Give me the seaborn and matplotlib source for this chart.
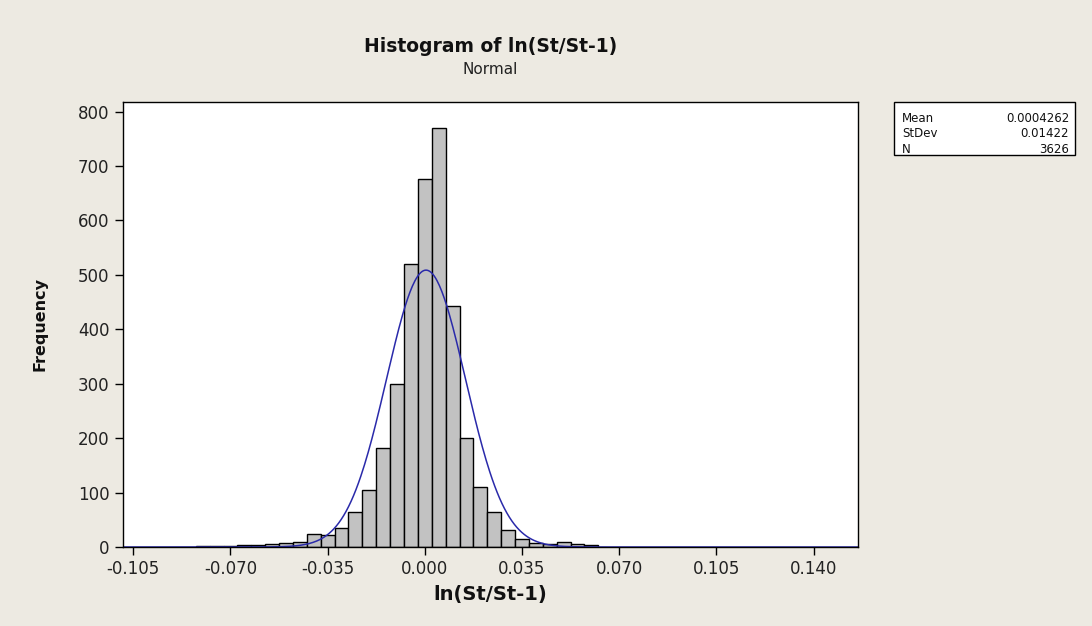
import numpy as np
import pandas as pd
import seaborn as sns
import matplotlib
matplotlib.use("Agg")
import matplotlib.pyplot as plt

# bin centres (width 0.005) and counts
bin_centers = [-0.080, -0.075, -0.070, -0.065, -0.060, -0.055, -0.050, -0.045,
               -0.040, -0.035, -0.030, -0.025, -0.020, -0.015, -0.010, -0.005,
               0.000, 0.005, 0.010, 0.015, 0.020, 0.025, 0.030, 0.035,
               0.040, 0.045, 0.050, 0.055, 0.060]
counts = [2, 2, 1, 3, 4, 6, 7, 10,
          23, 22, 35, 65, 105, 181, 299, 520,
          676, 769, 443, 200, 111, 65, 32, 14,
          8, 5, 9, 6, 3]
bin_width = 0.005

mean_val = 0.0004262
stdev_val = 0.01422
n_obs = 3626

x_ticks = [-0.105, -0.070, -0.035, 0.000, 0.035, 0.070, 0.105, 0.140]
y_ticks = [0, 100, 200, 300, 400, 500, 600, 700, 800]

df = pd.DataFrame({"ret": bin_centers, "count": counts})

sns.set_style("white")
plt.rcParams["axes.unicode_minus"] = False
plt.rcParams["font.family"] = ["DejaVu Sans"]

bg = "#EDEAE2"
fig = plt.figure(figsize=(10.92, 6.26), dpi=100, facecolor=bg)
ax = fig.add_axes([0.1124, 0.1262, 0.6733, 0.7113])
ax.set_facecolor("white")

sns.histplot(data=df, x="ret", weights="count", binwidth=bin_width,
             binrange=(-0.0825, 0.0625), stat="count",
             color="#C2C2C2", edgecolor="black", linewidth=1.0, alpha=1.0, ax=ax)

# fitted normal curve scaled to counts
xs = np.linspace(-0.1088, 0.156, 600)
ys = n_obs * bin_width * np.exp(-0.5 * ((xs - mean_val) / stdev_val) ** 2) / (stdev_val * np.sqrt(2 * np.pi))
sns.lineplot(x=xs, y=ys, color="#2A2AAA", linewidth=1.1, ax=ax)

ax.set_xlim(-0.1088, 0.156)
ax.set_ylim(0, 818)
ax.set_xticks(x_ticks)
ax.set_xticklabels([f"{t:.3f}" for t in x_ticks])
ax.set_yticks(y_ticks)
ax.tick_params(axis="both", direction="out", length=6, width=1, color="black",
               labelsize=12, labelcolor="#222222", bottom=True, left=True)
for s in ax.spines.values():
    s.set_color("black")
    s.set_linewidth(1.0)

ax.set_xlabel("ln(St/St-1)", fontsize=14, fontweight="bold", labelpad=5, color="#111111")
ax.set_ylabel("Frequency", fontsize=11.5, fontweight="bold", labelpad=22, color="#111111")

fig.text(0.449, 0.925, "Histogram of ln(St/St-1)", ha="center", va="center",
         fontsize=13.5, fontweight="bold", color="#111111")
fig.text(0.449, 0.889, "Normal", ha="center", va="center", fontsize=11, color="#222222")

# stats box
box = plt.Rectangle((0.8187, 0.752), 0.1657, 0.085, transform=fig.transFigure,
                    facecolor="white", edgecolor="black", linewidth=1.0)
fig.patches.append(box)
labels = ["Mean", "StDev", "N"]
values = ["0.0004262", "0.01422", str(n_obs)]
for i, (lab, val) in enumerate(zip(labels, values)):
    yy = 0.8115 - i * 0.0255
    fig.text(0.826, yy, lab, ha="left", va="center", fontsize=8.5, color="#111111")
    fig.text(0.979, yy, val, ha="right", va="center", fontsize=8.5, color="#111111")

fig.savefig("out.png", dpi=100, facecolor=bg)
